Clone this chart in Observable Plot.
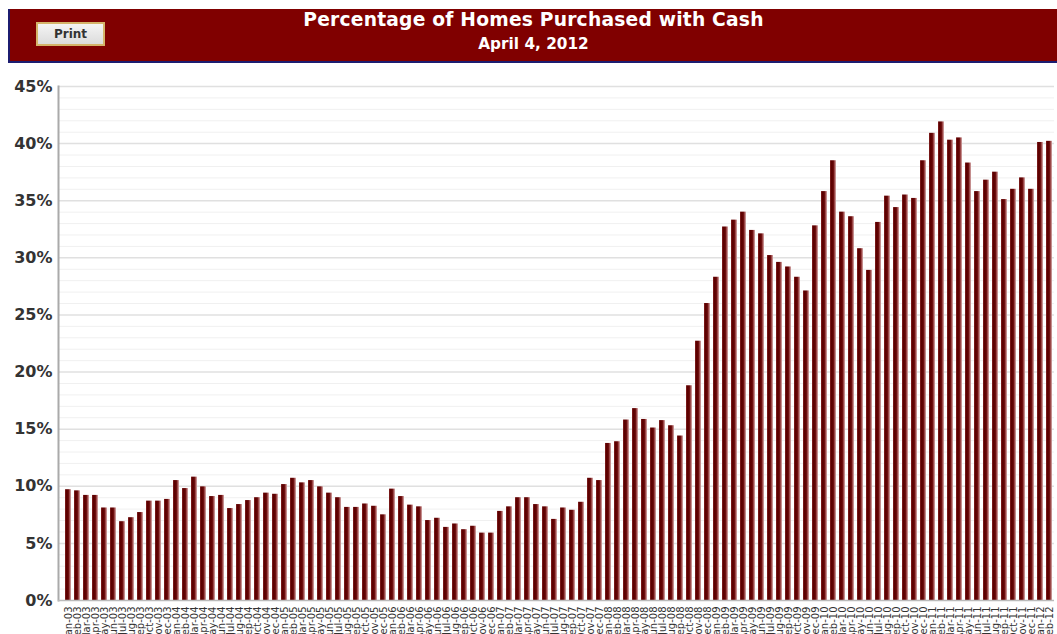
<!DOCTYPE html>
<html>
<head>
<meta charset="utf-8">
<script src="https://cdn.jsdelivr.net/npm/d3@7"></script>
<script src="https://cdn.jsdelivr.net/npm/@observablehq/plot@0.6"></script>
<style>
html, body { margin: 0; padding: 0; overflow: hidden; background: #fff; width: 1057px; height: 634px; font-family: "DejaVu Sans", Verdana, sans-serif; }
#header { position: absolute; left: 8px; top: 9px; width: 1047px; height: 52px; background: #800000; border-left: 2px solid #1c1c70; border-bottom: 2px solid #1c1c70; }
#title { position: absolute; left: 0; right: 0; top: 0px; text-align: center; color: #fff; font-weight: bold; font-size: 18.7px; letter-spacing: 0.2px; }
#subtitle { position: absolute; left: 0; right: 0; top: 26px; text-align: center; color: #fff; font-weight: bold; font-size: 15.3px; }
#print { position: absolute; left: 26px; top: 13px; width: 65px; height: 20px; border: 2px solid #d4b46a; background: linear-gradient(#f4f4f4, #dcdcdc); color: #333; font-weight: bold; font-size: 12px; text-align: center; line-height: 20px; }
#chart { position: absolute; left: 0; top: 70px; }
</style>
</head>
<body>
<div id="header">
  <div id="print">Print</div>
  <div id="title">Percentage of Homes Purchased with Cash</div>
  <div id="subtitle">April 4, 2012</div>
</div>
<div id="chart"></div>
<script>
const monthNames = ["Jan","Feb","Mar","Apr","May","Jun","Jul","Aug","Sep","Oct","Nov","Dec"];
const years = ["03","04","05","06","07","08","09","10","11","12"];

const pct2003 = [9.7, 9.6, 9.2, 9.2, 8.1, 8.1, 6.9, 7.25, 7.7, 8.7, 8.7, 8.85];
const pct2004 = [10.5, 9.8, 10.8, 9.95, 9.1, 9.2, 8.05, 8.4, 8.75, 9.0, 9.4, 9.3];
const pct2005 = [10.15, 10.7, 10.3, 10.5, 9.95, 9.4, 9.0, 8.15, 8.15, 8.45, 8.25, 7.5];
const pct2006 = [9.75, 9.1, 8.35, 8.2, 7.0, 7.2, 6.4, 6.7, 6.2, 6.5, 5.9, 5.9];
const pct2007 = [7.8, 8.2, 9.0, 9.0, 8.4, 8.2, 7.1, 8.1, 7.9, 8.6, 10.7, 10.5];
const pct2008 = [13.75, 13.9, 15.8, 16.8, 15.85, 15.1, 15.75, 15.3, 14.4, 18.8, 22.7, 26.0];
const pct2009 = [28.3, 32.7, 33.3, 34.0, 32.4, 32.1, 30.2, 29.6, 29.2, 28.3, 27.1, 32.8];
const pct2010 = [35.8, 38.5, 34.0, 33.6, 30.8, 28.9, 33.1, 35.4, 34.4, 35.5, 35.2, 38.5];
const pct2011 = [40.9, 41.9, 40.3, 40.5, 38.3, 35.8, 36.8, 37.5, 35.1, 36.0, 37.0, 36.0];
const pct2012 = [40.1, 40.2];

const yTicks = [0, 5, 10, 15, 20, 25, 30, 35, 40, 45];

const series = [pct2003, pct2004, pct2005, pct2006, pct2007, pct2008, pct2009, pct2010, pct2011, pct2012];
const data = [];
series.forEach((vals, yi) => vals.forEach((v, mi) => data.push({month: monthNames[mi] + "-" + years[yi], pct: v})));
const monthLabels = data.map(d => d.month);

const minorTicks = d3.range(1, 46).filter(v => v % 5 !== 0);

const svg = Plot.plot({
  width: 1057,
  height: 600,
  marginTop: 16,
  marginBottom: 70,
  marginLeft: 58,
  marginRight: 3,
  style: { fontFamily: "'DejaVu Sans', Verdana, sans-serif", background: "transparent", overflow: "visible" },
  x: { type: "band", domain: monthLabels, paddingInner: 0.36, paddingOuter: 0.2, insetLeft: 4, label: null },
  y: { domain: [0, 45], label: null },
  marks: [
    Plot.ruleY(minorTicks, { stroke: "#f0f0f0", strokeWidth: 1 }),
    Plot.ruleY(yTicks.filter(v => v > 0), { stroke: "#e0e0e0", strokeWidth: 1.5 }),
    Plot.barY(data, { x: "month", y: "pct", fill: "url(#barGrad)" }),
    Plot.frame({ anchor: "left", stroke: "#aaaaaa", strokeWidth: 2 }),
    Plot.ruleY([0], { stroke: "#bbbbbb", strokeWidth: 1.5 }),
    Plot.axisY({ ticks: yTicks, tickFormat: d => d + "%", tickSize: 0, tickPadding: 6, fontSize: 16, fontWeight: "bold", fill: "#333", label: null }),
    Plot.axisX({ tickRotate: -90, tickSize: 0, tickPadding: 6, fontSize: 10, fill: "#333", label: null })
  ]
});

const defs = d3.select(svg).insert("defs", ":first-child");
const grad = defs.append("linearGradient").attr("id", "barGrad").attr("x1", "0").attr("x2", "1").attr("y1", "0").attr("y2", "0");
[["0%", "#8a2828"], ["20%", "#5a0000"], ["55%", "#640404"], ["80%", "#a85858"], ["100%", "#d8b4b4"]].forEach(([o, c]) =>
  grad.append("stop").attr("offset", o).attr("stop-color", c));

document.getElementById("chart").appendChild(svg);
</script>
</body>
</html>
